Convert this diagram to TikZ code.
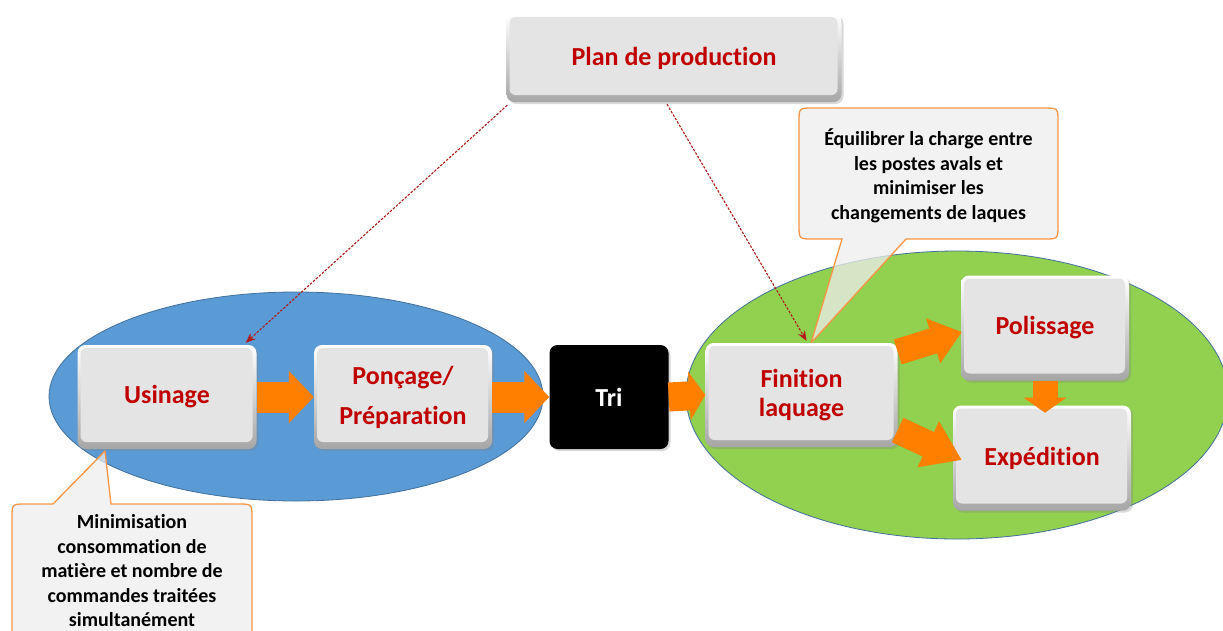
\documentclass[tikz,border=0pt]{standalone}
\usepackage{fontspec}
\setmainfont{Carlito}[RawFeature=-liga]
\usetikzlibrary{arrows.meta,shadows,calc}
\definecolor{ellblue}{HTML}{5B9BD5}
\definecolor{ellgreen}{HTML}{92D050}
\definecolor{ellline}{HTML}{41719C}
\definecolor{arrorange}{RGB}{255,128,0}
\definecolor{labred}{HTML}{C00000}
\definecolor{dashred}{HTML}{B01A1A}
\definecolor{calfill}{HTML}{EDEDED}
\definecolor{calline}{HTML}{F79646}
\definecolor{boxgray}{HTML}{E4E4E4}
\begin{document}
\begin{tikzpicture}[x=1pt,y=-1pt,
  gbox/.style={draw=none, rounded corners=8pt, top color=white, bottom color=gray!70,
    path picture={\fill[boxgray, rounded corners=6pt]
      ([shift={(3pt,-3pt)}]path picture bounding box.north west) rectangle
      ([shift={(-4pt,7pt)}]path picture bounding box.south east);},
    drop shadow={shadow xshift=2pt, shadow yshift=-2pt, opacity=0.3},
    font=\fontsize{26}{31}\selectfont\bfseries, text=labred, align=center, inner sep=0pt},
  blackbox/.style={draw=none, rounded corners=8pt, fill=black,
    drop shadow={shadow xshift=2pt, shadow yshift=-2pt, opacity=0.3},
    font=\fontsize{26}{31}\selectfont\bfseries, text=white, align=center, inner sep=0pt},
  callout/.style={fill=calfill, fill opacity=0.75, draw=calline, line width=1.3pt, line join=miter},
  ctext/.style={font=\fontsize{20}{24.5}\selectfont\bfseries, text=black, align=center, inner sep=0pt},
  barrow/.style={draw=arrorange, line width=31pt, -{Triangle[length=25pt,width=51pt]}},
  redash/.style={draw=dashred, line width=1.1pt, dash pattern=on 2.5pt off 1.5pt, -{Stealth[length=10pt,width=8pt]}}
]
\useasboundingbox (0,0) rectangle (1223,630);
\clip (0,0) rectangle (1223,630);

% ellipses
\path[fill=ellblue, draw=ellline, line width=0.8pt] (296,396.5) ellipse [x radius=247, y radius=104.5];
\path[fill=ellgreen, draw=ellline, line width=0.8pt] (957,395) ellipse [x radius=271, y radius=144];

% callouts
\path[callout] (799,122) .. controls (799,108) .. (813,108) -- (1044,108)
  .. controls (1058,108) .. (1058,122) -- (1058,225) .. controls (1058,239) .. (1044,239)
  -- (906,239) -- (811,343) -- (842,239) -- (813,239) .. controls (799,239) .. (799,225) -- cycle;
\node[ctext] (c1) at (928.5,176) {Équilibrer la charge entre\\les postes avals et\\minimiser les\\changements de laques};

\path[callout] (12,518) .. controls (12,504) .. (26,504) -- (53,504) -- (105,451) -- (111,504)
  -- (238,504) .. controls (252,504) .. (252,518) -- (252,636) .. controls (252,650) .. (238,650)
  -- (26,650) .. controls (12,650) .. (12,636) -- cycle;
\node[ctext] (c2) at (132,571) {Minimisation\\consommation de\\matière et nombre de\\commandes traitées\\simultanément};

% boxes
\node[gbox, minimum width=335pt, minimum height=88pt] (plan) at (674,58) {Plan de production};
\node[gbox, minimum width=179pt, minimum height=104pt] (usi) at (167,397) {Usinage};
\node[gbox, minimum width=178pt, minimum height=104pt, font=\fontsize{26}{40}\selectfont\bfseries] (pon) at (403,397) {Ponçage/\\Préparation};
\node[blackbox, minimum width=119pt, minimum height=104pt] (tri) at (609,397) {Tri};
\node[gbox, minimum width=192pt, minimum height=104pt, font=\fontsize{26}{29}\selectfont\bfseries] (fin) at (801.5,395) {Finition\\laquage};
\node[gbox, minimum width=168pt, minimum height=105pt] (pol) at (1045,328) {Polissage};
\node[gbox, minimum width=178pt, minimum height=105pt] (exp) at (1042,458) {Expédition};

% block arrows
\draw[barrow] (usi.east) -- (pon.west);
\draw[barrow] (pon.east) -- (tri.west);
\draw[barrow, line width=29pt, -{Triangle[length=16pt,width=48pt]}] (tri.east) -- (fin.west);
\draw[barrow, line width=26pt, -{Triangle[length=30pt,width=45pt]}] ([yshift=43pt]fin.east) -- ($(pol.west)+(1,4)$);
\draw[barrow, line width=27pt, -{Triangle[length=37pt,width=48pt]}] ([yshift=-35pt]fin.east) -- ($(exp.west)+(9,2)$);
\draw[barrow, line width=25pt, -{Triangle[length=15pt,width=42pt]}] (pol.south) -- ($(pol.south)+(0,32)$);

% dashed connectors
\draw[redash] ([xshift=1pt,yshift=-3pt]plan.south west) -- ([xshift=-11pt,yshift=2pt]usi.north east);
\draw[redash] ([xshift=-7pt,yshift=-2pt]plan.south) -- ([xshift=5pt,yshift=2pt]fin.north);
\end{tikzpicture}
\end{document}
